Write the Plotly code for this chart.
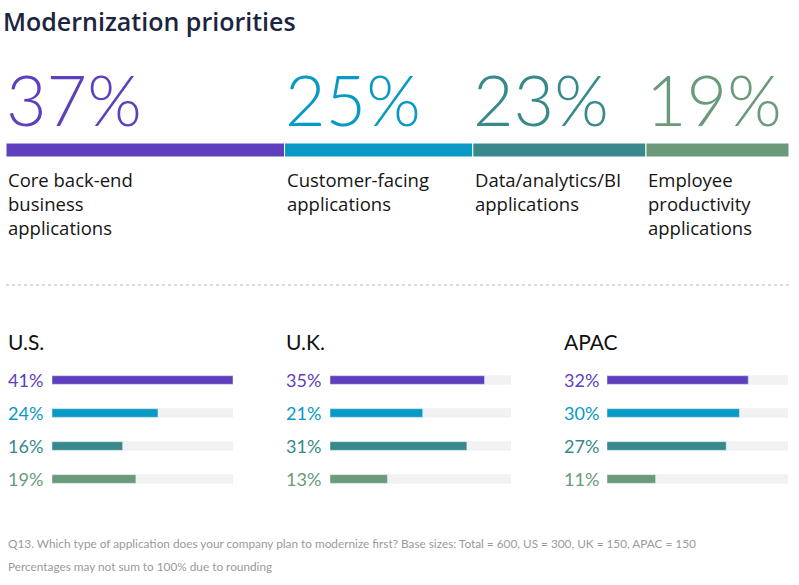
import plotly.graph_objects as go
import numpy as np

categories = ["Core back-end<br>business<br>applications", "Customer-facing<br>applications",
              "Data/analytics/BI<br>applications", "Employee<br>productivity<br>applications"]
total_values = [37, 25, 23, 19]
colors = ["#5e40be", "#0899c4", "#37898b", "#6a9a7a"]

regions = ["U.S.", "U.K.", "APAC"]
us_values = [41, 24, 16, 19]
uk_values = [35, 21, 31, 13]
apac_values = [32, 30, 27, 11]
region_values = [us_values, uk_values, apac_values]
scale_max = 41

W, H = 799, 585
FONT = "Lato"
FONT2 = "Open Sans"

def px(x):
    return x / W

def py(y):
    return 1 - y / H

fig = go.Figure()

bases = np.concatenate([[0], np.cumsum(total_values)[:-1]])
for i, v in enumerate(total_values):
    fig.add_trace(go.Bar(x=[v], y=[0], base=[bases[i]], orientation="h",
                         marker=dict(color=colors[i], line=dict(color="white", width=1)),
                         width=1, xaxis="x", yaxis="y", showlegend=False, hoverinfo="skip"))

layout = dict(
    width=W, height=H, margin=dict(l=0, r=0, t=0, b=0),
    paper_bgcolor="white", plot_bgcolor="white", barmode="overlay",
    font=dict(family=FONT),
    xaxis=dict(domain=[px(6), px(789)], range=[0, sum(total_values)], visible=False, fixedrange=True),
    yaxis=dict(domain=[py(157), py(143)], range=[-0.5, 0.5], visible=False, fixedrange=True),
)

annotations = []
annotations.append(dict(text="Modernization priorities", x=px(1), y=py(21), xref="paper", yref="paper",
                        xanchor="left", yanchor="middle", showarrow=False,
                        font=dict(size=25, color="#1b2440", family=FONT2, weight=600)))
for i, v in enumerate(total_values):
    annotations.append(dict(text=f"{v}%", x=bases[i], y=py(99), xref="x", yref="paper",
                            xanchor="left", yanchor="middle", showarrow=False, xshift=-2,
                            font=dict(size=70, color=colors[i], family=FONT, weight=300)))
    annotations.append(dict(text=categories[i], x=bases[i], y=py(165), xref="x", yref="paper",
                            xanchor="left", yanchor="top", showarrow=False, align="left",
                            font=dict(size=18.5, color="#151515", family=FONT2)))

shapes = [dict(type="line", xref="paper", yref="paper", x0=px(6), x1=px(789), y0=py(285), y1=py(285),
               line=dict(color="#cfcfcf", width=1.5, dash="dot"))]

panel_left = [6, 284, 562]
track_left = [52, 330, 607]
track_w = 181
for r, (name, vals) in enumerate(zip(regions, region_values)):
    ax = r + 2
    xa, ya = f"x{ax}", f"y{ax}"
    ypos = list(range(4))
    fig.add_trace(go.Bar(x=[scale_max] * 4, y=ypos, orientation="h", marker=dict(color="#f2f2f2"),
                         width=0.26, xaxis=xa, yaxis=ya, showlegend=False, hoverinfo="skip"))
    fig.add_trace(go.Bar(x=vals, y=ypos, orientation="h", marker=dict(color=colors),
                         width=0.26, xaxis=xa, yaxis=ya, showlegend=False, hoverinfo="skip"))
    layout[f"xaxis{ax}"] = dict(domain=[px(track_left[r]), px(track_left[r] + track_w)], range=[0, scale_max],
                                visible=False, fixedrange=True, anchor=ya)
    layout[f"yaxis{ax}"] = dict(domain=[py(495.5), py(363.5)], range=[3.5, -0.5],
                                visible=False, fixedrange=True, anchor=xa)
    annotations.append(dict(text=name, x=px(panel_left[r]), y=py(341), xref="paper", yref="paper",
                            xanchor="left", yanchor="middle", showarrow=False,
                            font=dict(size=21, color="#111111", family=FONT)))
    for j, v in enumerate(vals):
        annotations.append(dict(text=f"{v}%", x=px(panel_left[r]), y=j, xref="paper", yref=ya,
                                xanchor="left", yanchor="middle", showarrow=False,
                                font=dict(size=18, color=colors[j], family=FONT)))

annotations.append(dict(text="Q13. Which type of application does your company plan to modernize first? Base sizes: Total = 600, US = 300, UK = 150, APAC = 150",
                        x=px(6), y=py(543), xref="paper", yref="paper", xanchor="left", yanchor="middle",
                        showarrow=False, font=dict(size=11.8, color="#9a9a9a", family=FONT)))
annotations.append(dict(text="Percentages may not sum to 100% due to rounding",
                        x=px(6), y=py(566), xref="paper", yref="paper", xanchor="left", yanchor="middle",
                        showarrow=False, font=dict(size=11.8, color="#9a9a9a", family=FONT)))

layout["annotations"] = annotations
layout["shapes"] = shapes
fig.update_layout(**layout)
fig.write_html("out.html", config={"displayModeBar": False},
               post_script="document.body.style.margin='0';document.body.style.overflow='hidden';")
